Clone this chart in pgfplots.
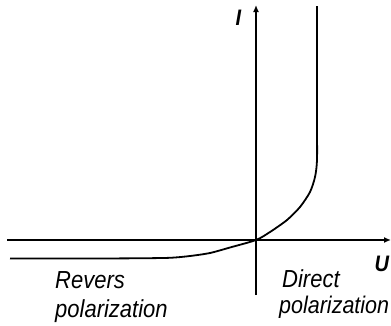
\documentclass[border=0pt]{standalone}
\usepackage{pgfplots}
\pgfplotsset{compat=1.18}
\usetikzlibrary{arrows.meta}
\usepackage{fontspec}
\setmainfont{Liberation Sans}
\newcommand{\tall}[1]{\scalebox{1}[1.12]{#1}}
\begin{document}
\begin{tikzpicture}
\begin{axis}[
  scale only axis, width=384pt, height=290pt,
  xmin=-249, xmax=135, ymin=-55, ymax=235,
  axis lines=middle,
  axis line style={line width=1.6pt, -{Latex[length=7pt,width=6pt]}},
  xtick=\empty, ytick=\empty, clip=false,
]
\addplot[line width=1.8pt, smooth, tension=0.45] coordinates {
 (-246,-18.5) (-170,-18.5) (-120,-18.3) (-86,-17.8) (-66,-16) (-46,-13) (-26,-7.5) (0,0)
 (14,8) (31,20) (44,33) (54,48) (59,63) (61,80) (61,120) (61,234)
};
\node[anchor=base west, font=\fontsize{20}{24}\selectfont\bfseries\itshape] at (axis cs:-24,215) {\tall{I}};
\node[anchor=base west, font=\fontsize{20}{24}\selectfont\bfseries\itshape] at (axis cs:115,-31) {\tall{U}};
\node[anchor=base west, inner sep=0pt, font=\fontsize{22}{26}\selectfont\itshape] at (axis cs:-201,-48) {\tall{Revers}};
\node[anchor=base west, inner sep=0pt, font=\fontsize{22}{26}\selectfont\itshape] at (axis cs:-201,-77) {\tall{polarization}};
\node[anchor=base west, inner sep=0pt, font=\fontsize{22}{26}\selectfont\itshape] at (axis cs:26,-47) {\tall{Direct}};
\node[anchor=base west, inner sep=0pt, font=\fontsize{21.5}{26}\selectfont\itshape] at (axis cs:23,-73) {\tall{polarization}};
\coordinate (bl) at (axis cs:-256,-85);
\coordinate (tr) at (axis cs:135,240);
\end{axis}
\pgfresetboundingbox
\useasboundingbox (bl) rectangle (tr);
\end{tikzpicture}
\end{document}
